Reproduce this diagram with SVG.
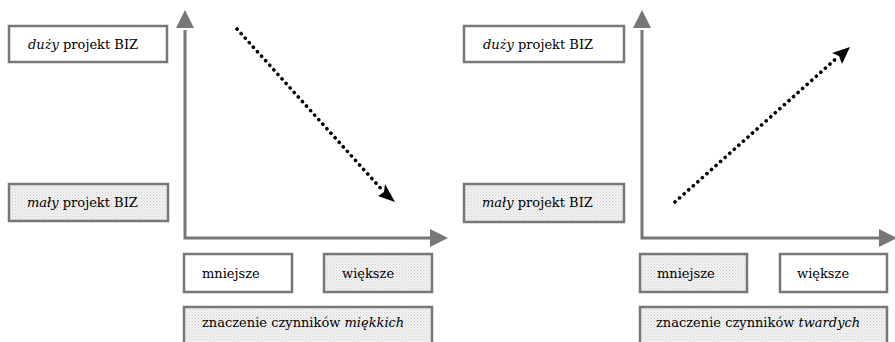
<svg xmlns="http://www.w3.org/2000/svg" width="895" height="342" viewBox="0 0 895 342">
<defs>
<pattern id="dots" width="3" height="3" patternUnits="userSpaceOnUse">
<rect width="3" height="3" fill="#f2f2f2"/>
<rect width="1" height="1" fill="#cfcfcf"/>
<rect x="1.5" y="1.5" width="1" height="1" fill="#d8d8d8"/>
</pattern>
<style>
.box{stroke:#777;stroke-width:2.5}
.w{fill:#fff}
.g{fill:url(#dots)}
.t{font-family:'DejaVu Serif',serif;font-size:13px;fill:#000}
.i{font-style:italic}
.axis{stroke:#777;stroke-width:3;fill:none}
.dot{stroke:#000;stroke-width:3.6;stroke-linecap:round;stroke-dasharray:0.1 6;fill:none}
</style>
</defs>
<g id="l-duzy"><rect class="box w" x="9" y="26" width="158" height="36"/><text class="t" x="28" y="49"><tspan class="i">duży</tspan> projekt BIZ</text></g>
<g id="l-maly"><rect class="box g" x="9" y="184" width="159" height="37"/><text class="t" x="27" y="207"><tspan class="i">mały</tspan> projekt BIZ</text></g>
<g id="l-mniejsze"><rect class="box w" x="184" y="254" width="108" height="38"/><text class="t" x="202" y="278">mniejsze</text></g>
<g id="l-wieksze"><rect class="box g" x="324" y="254" width="108" height="38"/><text class="t" x="342" y="278">większe</text></g>
<g id="l-znaczenie"><rect class="box g" x="184" y="307" width="248" height="40"/><text class="t" x="202" y="327">znaczenie czynników <tspan class="i">miękkich</tspan></text></g>
<g id="r-duzy"><rect class="box w" x="464" y="26" width="160" height="36"/><text class="t" x="483" y="49"><tspan class="i">duży</tspan> projekt BIZ</text></g>
<g id="r-maly"><rect class="box g" x="464" y="184" width="160" height="38"/><text class="t" x="482" y="207"><tspan class="i">mały</tspan> projekt BIZ</text></g>
<g id="r-mniejsze"><rect class="box g" x="640" y="254" width="107" height="38"/><text class="t" x="657" y="278">mniejsze</text></g>
<g id="r-wieksze"><rect class="box w" x="780" y="254" width="107" height="38"/><text class="t" x="797" y="278">większe</text></g>
<g id="r-znaczenie"><rect class="box g" x="640" y="307" width="247" height="40"/><text class="t" x="656" y="327">znaczenie czynników <tspan class="i">twardych</tspan></text></g>
<g id="connectors">
<path class="axis" d="M185,30 L185,238 L432,238"/>
<path d="M185,10 L176,28 L194,28 Z" fill="#777"/>
<path d="M448,238 L430,229 L430,247 Z" fill="#777"/>
<path class="axis" d="M642,30 L642,238 L880,238"/>
<path d="M642,10 L633,28 L651,28 Z" fill="#777"/>
<path d="M897,238 L879,229 L879,247 Z" fill="#777"/>
<path class="dot" d="M237,29 L384,192"/>
<path d="M395,202 L378,196 L384,192 L385,184 Z" fill="#000"/>
<path class="dot" d="M675,202 L839,56"/>
<path d="M850,47 L832,53 L839,56 L842,64 Z" fill="#000"/>
</g>
</svg>
